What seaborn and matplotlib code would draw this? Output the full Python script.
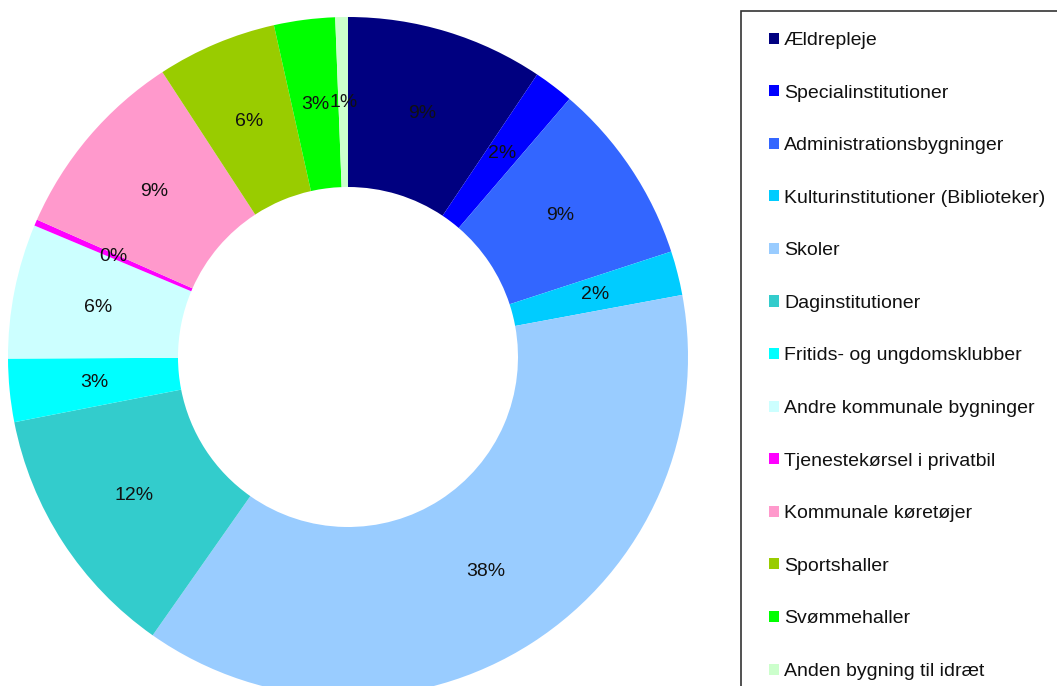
import matplotlib
matplotlib.use("Agg")
import matplotlib.pyplot as plt
import seaborn as sns
from matplotlib.patches import Patch, Rectangle

categories = ['Ældrepleje', 'Specialinstitutioner', 'Administrationsbygninger',
              'Kulturinstitutioner (Biblioteker)', 'Skoler', 'Daginstitutioner',
              'Fritids- og ungdomsklubber', 'Andre kommunale bygninger',
              'Tjenestekørsel i privatbil', 'Kommunale køretøjer', 'Sportshaller',
              'Svømmehaller', 'Anden bygning til idræt']
shares = [9.4, 1.9, 8.7, 2.1, 37.7, 12.2, 3.0, 6.4, 0.3, 9.2, 5.7, 2.9, 0.6]
colors = ['#000080', '#0000FF', '#3366FF', '#00CCFF', '#99CCFF', '#33CCCC',
          '#00FFFF', '#CCFFFF', '#FF00FF', '#FF99CC', '#99CC00', '#00FF00', '#CCFFCC']

sns.set_theme(style="white")
plt.rcParams["font.family"] = ["Liberation Sans", "DejaVu Sans"]

W, H = 1057, 686
fig = plt.figure(figsize=(W / 100, H / 100), dpi=100)

# donut axes: centre ~ (348, 357) px, outer radius ~ 340 px
cx, cy, r = 348, 357, 340
ax = fig.add_axes([(cx - r) / W, (H - cy - r) / H, 2 * r / W, 2 * r / H])
wedges, texts, autotexts = ax.pie(shares, colors=colors, startangle=90, counterclock=False,
                                  autopct='%.0f%%', pctdistance=0.75, radius=1,
                                  wedgeprops=dict(width=0.5, linewidth=0),
                                  textprops=dict(fontsize=14, color='#111111'))
ax.set_xlim(-1, 1)
ax.set_ylim(-1, 1)
ax.set_aspect('equal')
ax.axis('off')

# legend frame, runs off the right and bottom edges
fig.patches.append(Rectangle((741 / W, -0.05), 0.5, (H - 11) / H + 0.05,
                             transform=fig.transFigure, fill=False,
                             edgecolor='#333333', linewidth=1.2))

handles = [Patch(facecolor=c, edgecolor='none', label=l) for c, l in zip(colors, categories)]
fig.legend(handles=handles, loc='upper left', bbox_to_anchor=(769 / W, 1 - 32 / H),
           frameon=False, fontsize=14, handlelength=0.5, handleheight=0.5,
           handletextpad=0.28, labelspacing=1.83, borderpad=0, borderaxespad=0,
           labelcolor='#111111')

fig.savefig('out.png', dpi=100)
